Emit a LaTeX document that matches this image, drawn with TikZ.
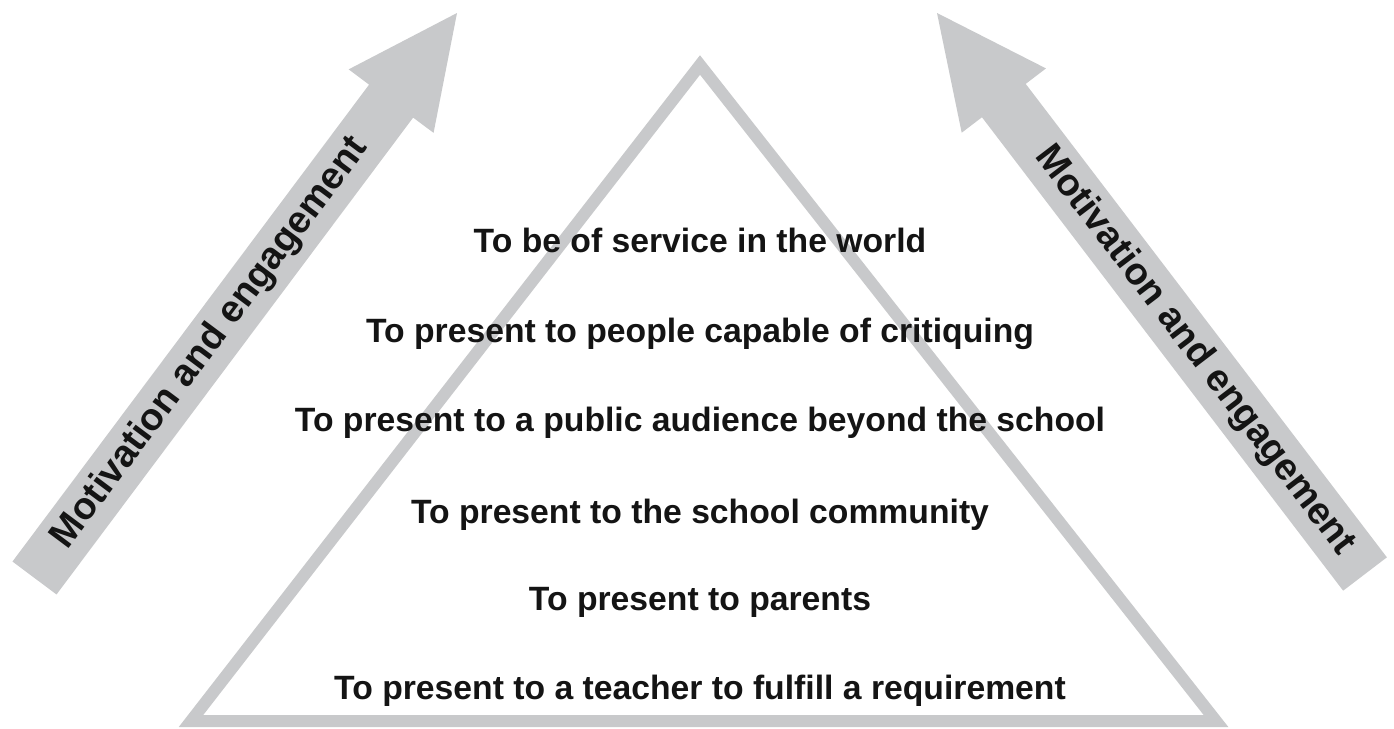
\documentclass[tikz,border=0pt]{standalone}
\usepackage{fontspec}
\setmainfont{Liberation Sans}
\usetikzlibrary{calc}
\definecolor{pgray}{RGB}{200,201,203}
\tikzset{
  lvl/.style={font=\fontsize{33.7}{40}\selectfont\bfseries, anchor=base, inner sep=0pt, text=black!92},
  arrtxt/.style={font=\fontsize{38}{44}\selectfont\bfseries, inner sep=0pt, sloped, text=black!92},
  tri/.style={draw=pgray, line width=12pt, line join=miter},
  fatarrow/.style={fill=pgray, draw=none}
}
\newcommand{\mvarrow}[2]{%
  \fill[fatarrow]
    ($(#1)!27.5pt!90:(#2)$) --
    ($($(#1)!595.5pt!(#2)$)!27.5pt!-90:(#1)$) --
    ($($(#1)!595.5pt!(#2)$)!53pt!-90:(#1)$) --
    (#2) --
    ($($(#1)!595.5pt!(#2)$)!53pt!90:(#1)$) --
    ($($(#1)!595.5pt!(#2)$)!27.5pt!90:(#1)$) --
    ($(#1)!27.5pt!-90:(#2)$) -- cycle;
}
\begin{document}
\begin{tikzpicture}[x=1pt,y=-1pt]
\useasboundingbox (0,0) rectangle (1394,728);
\fill[white] (0,0) rectangle (1394,728);
% triangle
\coordinate (apex) at (700,65);
\coordinate (bl) at (191,721);
\coordinate (br) at (1216,721);
\draw[tri] (apex) -- (br) -- (bl) -- cycle;
% arrows
\coordinate (ltail) at (34.5,578);
\coordinate (ltip) at (457,13);
\coordinate (rtail) at (1365,574);
\coordinate (rtip) at (937,13);
\mvarrow{ltail}{ltip}
\mvarrow{rtail}{rtip}
\path (ltail) -- (ltip) node[arrtxt, pos=0.416] (lt) {Motivation and engagement};
\path (rtip) -- (rtail) node[arrtxt, pos=0.602] (rt) {Motivation and engagement};
% levels
\node[lvl] (l6) at (700,252) {To be of service in the world};
\node[lvl] (l5) at (700,342) {To present to people capable of critiquing};
\node[lvl] (l4) at (700,431) {To present to a public audience beyond the school};
\node[lvl] (l3) at (700,523) {To present to the school community};
\node[lvl] (l2) at (700,610) {To present to parents};
\node[lvl] (l1) at (700,699) {To present to a teacher to fulfill a requirement};
\end{tikzpicture}
\end{document}
